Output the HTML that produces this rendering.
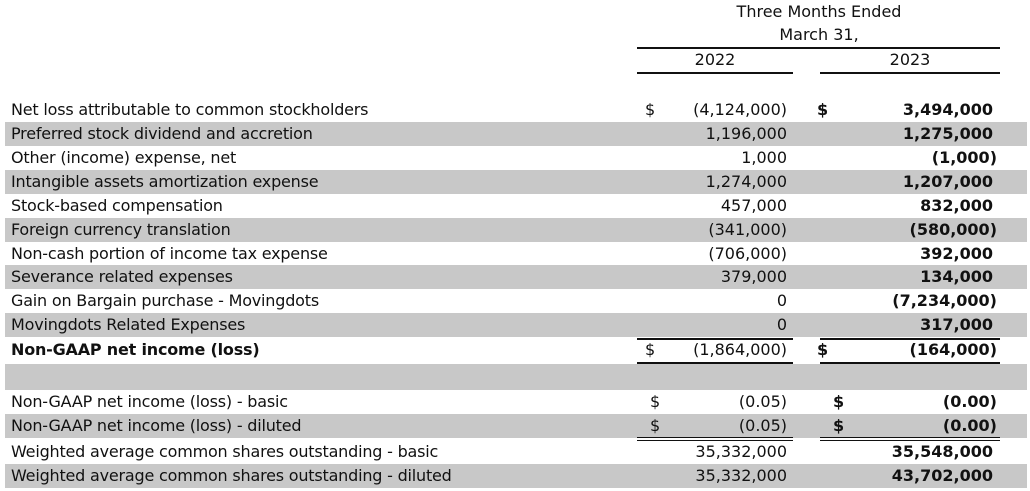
<!DOCTYPE html><html><head><style>
body{margin:0;width:1030px;height:491px;background:#fff;position:relative;overflow:hidden;font-family:"DejaVu Sans","Liberation Sans",sans-serif;font-size:16px;color:#111}
.r{position:absolute;left:5px;width:1022px;height:24px;line-height:24px}
.g{background:#c8c8c8}
.l{position:absolute;left:6px;white-space:nowrap;letter-spacing:-0.2px}
.a{position:absolute;right:240px;text-align:right}
.ap{position:absolute;right:240px}
.b{position:absolute;right:34px;font-weight:bold}
.bp{position:absolute;right:30px;font-weight:bold}
.d1{position:absolute;left:640px}.d2{position:absolute;left:812px;font-weight:bold}
.ln{position:absolute;background:#111;height:2px}
.t{position:absolute;text-align:center;white-space:nowrap}
</style></head><body>
<div class="t" style="left:719px;width:200px;top:2px">Three Months Ended</div>
<div class="t" style="left:719px;width:200px;top:25px">March 31,</div>
<div class="ln" style="left:637px;width:363px;top:47px"></div>
<div class="t" style="left:637px;width:156px;top:50px">2022</div>
<div class="t" style="left:820px;width:180px;top:50px">2023</div>
<div class="ln" style="left:637px;width:156px;top:72px"></div>
<div class="ln" style="left:820px;width:180px;top:72px"></div>

<div class="r" style="top:98px"><span class="l">Net loss attributable to common stockholders</span><span class="d1">$</span><span class="ap">(4,124,000)</span><span class="d2">$</span><span class="b">3,494,000</span></div>
<div class="r g" style="top:122px"><span class="l">Preferred stock dividend and accretion</span><span class="a">1,196,000</span><span class="b">1,275,000</span></div>
<div class="r" style="top:146px"><span class="l">Other (income) expense, net</span><span class="a">1,000</span><span class="bp">(1,000)</span></div>
<div class="r g" style="top:170px"><span class="l">Intangible assets amortization expense</span><span class="a">1,274,000</span><span class="b">1,207,000</span></div>
<div class="r" style="top:194px"><span class="l">Stock-based compensation</span><span class="a">457,000</span><span class="b">832,000</span></div>
<div class="r g" style="top:218px"><span class="l">Foreign currency translation</span><span class="ap">(341,000)</span><span class="bp">(580,000)</span></div>
<div class="r" style="top:242px"><span class="l">Non-cash portion of income tax expense</span><span class="ap">(706,000)</span><span class="b">392,000</span></div>
<div class="r g" style="top:265px"><span class="l">Severance related expenses</span><span class="a">379,000</span><span class="b">134,000</span></div>
<div class="r" style="top:289px"><span class="l">Gain on Bargain purchase - Movingdots</span><span class="a">0</span><span class="bp">(7,234,000)</span></div>
<div class="r g" style="top:313px"><span class="l">Movingdots Related Expenses</span><span class="a">0</span><span class="b">317,000</span></div>
<div class="r" style="top:338px;height:25px"><span class="l" style="font-weight:bold">Non-GAAP net income (loss)</span><span class="d1">$</span><span class="ap">(1,864,000)</span><span class="d2">$</span><span class="bp">(164,000)</span></div>
<div class="ln" style="left:637px;width:156px;top:338px"></div>
<div class="ln" style="left:820px;width:180px;top:338px"></div>
<div class="r g" style="top:364px;height:26px"></div>
<div class="ln" style="left:637px;width:156px;top:362px"></div>
<div class="ln" style="left:820px;width:180px;top:362px"></div>
<div class="r" style="top:390px"><span class="l">Non-GAAP net income (loss) - basic</span><span class="d1" style="left:645px">$</span><span class="ap">(0.05)</span><span class="d2" style="left:828px">$</span><span class="bp">(0.00)</span></div>
<div class="r g" style="top:414px"><span class="l">Non-GAAP net income (loss) - diluted</span><span class="d1" style="left:645px">$</span><span class="ap">(0.05)</span><span class="d2" style="left:828px">$</span><span class="bp">(0.00)</span></div>
<div class="ln" style="left:637px;width:156px;top:437px;height:1px"></div>
<div class="ln" style="left:637px;width:156px;top:440px;height:1px"></div>
<div class="ln" style="left:820px;width:180px;top:437px;height:1px"></div>
<div class="ln" style="left:820px;width:180px;top:440px;height:1px"></div>
<div class="r" style="top:440px"><span class="l">Weighted average common shares outstanding - basic</span><span class="a">35,332,000</span><span class="b">35,548,000</span></div>
<div class="r g" style="top:464px"><span class="l">Weighted average common shares outstanding - diluted</span><span class="a">35,332,000</span><span class="b">43,702,000</span></div>
</body></html>
